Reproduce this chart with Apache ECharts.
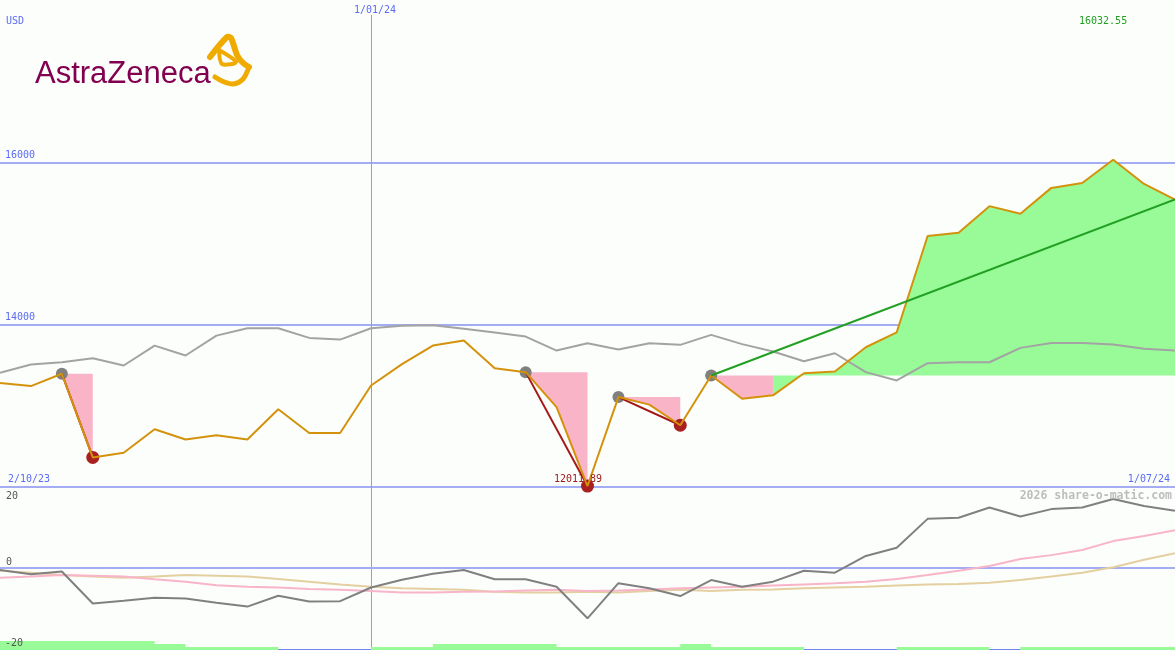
<!DOCTYPE html>
<html>
<head>
<meta charset="utf-8">
<script src="https://cdn.jsdelivr.net/npm/echarts@6/dist/echarts.min.js"></script>
<style>
html,body{margin:0;padding:0;background:#fcfefc;}
#chart{width:1175px;height:650px;}
</style>
</head>
<body>
<div id="chart"></div>
<script>
// ---------- data ----------
const dates = ['9/10/23','16/10/23','23/10/23','30/10/23','6/11/23','13/11/23','20/11/23','27/11/23','4/12/23','11/12/23','18/12/23','25/12/23','1/01/24','8/01/24','15/01/24','22/01/24','29/01/24','5/02/24','12/02/24','19/02/24','26/02/24','4/03/24','11/03/24','18/03/24','25/03/24','1/04/24','8/04/24','15/04/24','22/04/24','29/04/24','6/05/24','13/05/24','20/05/24','27/05/24','3/06/24','10/06/24','17/06/24','24/06/24','1/07/24'];
const price = [13280,13243,13395,12364,12421,12712,12585,12638,12585,12957,12666,12666,13251,13514,13742,13804,13464,13415,12985,12011.89,13108,13015,12761,13374,13088,13129,13402,13423,13722,13906,15092,15133,15460,15366,15685,15746,16032.55,15734,15542];
const average = [13407,13509,13537,13587,13497,13742,13620,13865,13955,13955,13837,13816,13955,13988,13994,13951,13902,13853,13681,13771,13693,13771,13751,13874,13760,13669,13550,13648,13415,13313,13525,13537,13537,13714,13775,13775,13755,13702,13681];
const momentum = [-0.5,-1.6,-0.9,-9.1,-8.4,-7.6,-7.8,-8.9,-9.9,-7.1,-8.6,-8.5,-5.0,-3.0,-1.5,-0.5,-2.9,-2.9,-4.8,-12.9,-3.9,-5.2,-7.2,-3.1,-4.8,-3.5,-0.7,-1.2,3.1,5.2,12.6,12.9,15.5,13.2,15.1,15.5,17.7,15.9,14.7];
const oscPink = [-2.5,-2.2,-1.8,-2.0,-2.2,-2.9,-3.5,-4.4,-4.8,-5.0,-5.4,-5.6,-5.9,-6.3,-6.3,-6.1,-6.0,-5.8,-5.6,-5.9,-5.8,-5.5,-5.2,-5.0,-4.8,-4.5,-4.2,-3.9,-3.5,-2.8,-1.8,-0.7,0.5,2.3,3.3,4.6,6.9,8.2,9.7];
const oscTan = [-0.7,-1.2,-1.8,-2.2,-2.5,-2.2,-1.8,-2.0,-2.2,-2.8,-3.5,-4.2,-4.8,-5.2,-5.4,-5.6,-6.1,-6.3,-6.3,-6.1,-6.3,-5.9,-5.6,-5.9,-5.6,-5.5,-5.2,-5.0,-4.8,-4.5,-4.2,-4.1,-3.8,-3.1,-2.2,-1.2,0.2,2.1,3.8];
const volume = [3,3,3,3,3,2,1,1,1,0,0,0,1,1,2,2,2,2,1,1,1,1,2,1,1,1,0,0,0,1,1,1,0,1,1,1,1,1,1];
const highIdx = [2,17,20,23];
const lowIdx = [3,19,22];
const drops = [[2,3],[17,19],[20,22]];
// [from, to, level index, kind]
const shades = [[2,3,2,'down'],[17,19,17,'down'],[20,22,20,'down'],[23,25,23,'down'],[25,38,23,'up']];
const trend = [23,38];
const markedDate = 12;
const startLabel = '2/10/23', endLabel = '1/07/24';
const maxLabel = '16032.55', minLabel = '12011.89';

// ---------- styles ----------
const BLUE_TXT = '#5b6bf3', GRID_BLUE = '#a4acf4', SEP_BLUE = '#7585f0', VLINE = '#8f9af8';
const MONO = '"DejaVu Sans Mono", monospace';
const PINK = '#f9b4c8', GREEN = '#98fb98';

const chart = echarts.init(document.getElementById('chart'));

const series = [];
series.push({
  type: 'custom', xAxisIndex: 0, yAxisIndex: 0, z: 1, silent: true,
  data: shades.map(s => [s[0], s[1], price[s[2]]]),
  encode: {x: [0, 1], y: 2},
  renderItem: function (params, api) {
    const s = shades[params.dataIndex];
    const lvl = price[s[2]];
    const pts = [];
    for (let i = s[0]; i <= s[1]; i++) pts.push(api.coord([i, price[i]]));
    pts.push(api.coord([s[1], lvl]));
    pts.push(api.coord([s[0], lvl]));
    return {type: 'polygon', shape: {points: pts}, style: {fill: s[3] === 'up' ? GREEN : PINK}};
  }
});
series.push({
  type: 'line', xAxisIndex: 0, yAxisIndex: 0, z: 2, data: average, showSymbol: false,
  lineStyle: {color: '#a3a3a3', width: 2}
});
series.push({
  type: 'scatter', xAxisIndex: 0, yAxisIndex: 0, z: 3, symbolSize: 12,
  data: highIdx.map(i => [i, price[i]]), itemStyle: {color: '#808080', opacity: 1}
});
series.push({
  type: 'scatter', xAxisIndex: 0, yAxisIndex: 0, z: 3, symbolSize: 13,
  data: lowIdx.map(i => [i, price[i]]), itemStyle: {color: '#a82020', opacity: 1}
});
drops.forEach(d => series.push({
  type: 'line', xAxisIndex: 0, yAxisIndex: 0, z: 4, showSymbol: false,
  data: [[d[0], price[d[0]]], [d[1], price[d[1]]]],
  lineStyle: {color: '#a31818', width: 2}
}));
series.push({
  type: 'line', xAxisIndex: 0, yAxisIndex: 0, z: 5, data: price, showSymbol: false,
  lineStyle: {color: '#d4920c', width: 2}
});
series.push({
  type: 'line', xAxisIndex: 0, yAxisIndex: 0, z: 6, showSymbol: false,
  data: [[trend[0], price[trend[0]]], [trend[1], price[trend[1]]]],
  lineStyle: {color: '#22a022', width: 2}
});
// volume strip
series.push({
  type: 'line', xAxisIndex: 2, yAxisIndex: 2, z: 1, step: 'end', showSymbol: false,
  data: volume, lineStyle: {width: 0}, areaStyle: {color: GREEN, opacity: 1}
});
// oscillators
series.push({type: 'line', xAxisIndex: 1, yAxisIndex: 1, z: 2, data: oscTan, showSymbol: false, lineStyle: {color: '#e4cfa0', width: 2}});
series.push({type: 'line', xAxisIndex: 1, yAxisIndex: 1, z: 3, data: oscPink, showSymbol: false, lineStyle: {color: '#f8b4c8', width: 2}});
series.push({
  type: 'line', xAxisIndex: 1, yAxisIndex: 1, z: 4, data: momentum, showSymbol: false,
  lineStyle: {color: '#808080', width: 2},
  markLine: {silent: true, symbol: 'none', label: {show: false}, z: 1,
    lineStyle: {color: GRID_BLUE, width: 2, type: 'solid'}, data: [{yAxis: 0}]}
});

const txt = (text, x, y, fill, align) => ({
  type: 'text', z: 50, silent: true,
  style: {text: text, x: x, y: y, fill: fill, font: '10px ' + MONO, textAlign: align, textVerticalAlign: 'middle'}
});
const gold = (points, w) => ({
  type: 'polyline', z: 50, silent: true, shape: {points: points, smooth: 0.3},
  style: {fill: null, stroke: '#f0ab00', lineWidth: w, lineJoin: 'round', lineCap: 'round'}
});

const option = {
  animation: false,
  backgroundColor: '#fcfefc',
  grid: [
    {left: 0, right: 0, top: 15, height: 472},
    {left: 0, right: 0, top: 490, height: 156},
    {left: 0, right: 0, top: 487, height: 163}
  ],
  xAxis: [
    {type: 'category', gridIndex: 0, data: dates, boundaryGap: false, position: 'top',
      axisLine: {show: false}, axisTick: {show: false},
      axisLabel: {interval: (i) => i === markedDate, color: BLUE_TXT, fontFamily: MONO, fontSize: 10, margin: 0, padding: [0, 0, 0, 8]},
      splitLine: {show: true, interval: (i) => i === markedDate, lineStyle: {color: VLINE, width: 1}}},
    {type: 'category', gridIndex: 1, data: dates, boundaryGap: false, show: false},
    {type: 'category', gridIndex: 2, data: dates, boundaryGap: false, position: 'top',
      axisLine: {show: true, lineStyle: {color: SEP_BLUE, width: 2}}, axisTick: {show: false}, axisLabel: {show: false},
      splitLine: {show: true, interval: (i) => i === markedDate, lineStyle: {color: VLINE, width: 1}}}
  ],
  yAxis: [
    {type: 'value', gridIndex: 0, min: 12000, max: 17815, interval: 2000,
      axisLine: {show: false}, axisTick: {show: false},
      axisLabel: {inside: true, margin: 5, color: BLUE_TXT, fontFamily: MONO, fontSize: 10,
        formatter: (v) => String(v),
        verticalAlign: 'bottom', padding: [0, 0, 2, 0], showMinLabel: false, showMaxLabel: false},
      splitLine: {show: true, showMaxLine: false, lineStyle: {color: GRID_BLUE, width: 2}}},
    {type: 'value', gridIndex: 1, min: -20, max: 20, interval: 20, show: false, splitLine: {show: false}},
    {type: 'value', gridIndex: 2, min: 0, max: 54.3, show: false, splitLine: {show: false}}
  ],
  series: series,
  graphic: [
    txt('USD', 6, 21, BLUE_TXT, 'left'),
    txt(maxLabel, 1079, 21, '#22a022', 'left'),
    txt(startLabel, 8, 479, BLUE_TXT, 'left'),
    txt(endLabel, 1170, 479, BLUE_TXT, 'right'),
    txt(minLabel, 578, 479, '#a01c1c', 'center'),
    txt('20', 6, 496, '#555555', 'left'),
    txt('0', 6, 562, '#555555', 'left'),
    txt('-20', 5, 643, '#555555', 'left'),
    {type: 'text', z: 50, silent: true, style: {text: '2026 share-o-matic.com', x: 1172, y: 496,
      fill: '#bdbdbd', font: 'bold 11.5px ' + MONO, textAlign: 'right', textVerticalAlign: 'middle'}},
    {type: 'text', z: 50, silent: true, style: {text: 'AstraZeneca', x: 35, y: 74,
      fill: '#830051', font: '31px "Liberation Sans", Arial, sans-serif', textAlign: 'left', textVerticalAlign: 'middle'}},
    gold([[210, 57], [227, 37], [231, 38], [237, 55], [242, 62], [249, 67]], 6),
    gold([[249, 67], [243, 79], [233, 84], [222, 81], [215, 77]], 5),
    gold([[219, 50], [236, 62], [222, 64], [219, 50]], 4)
  ]
};
chart.setOption(option);
</script>
</body>
</html>
